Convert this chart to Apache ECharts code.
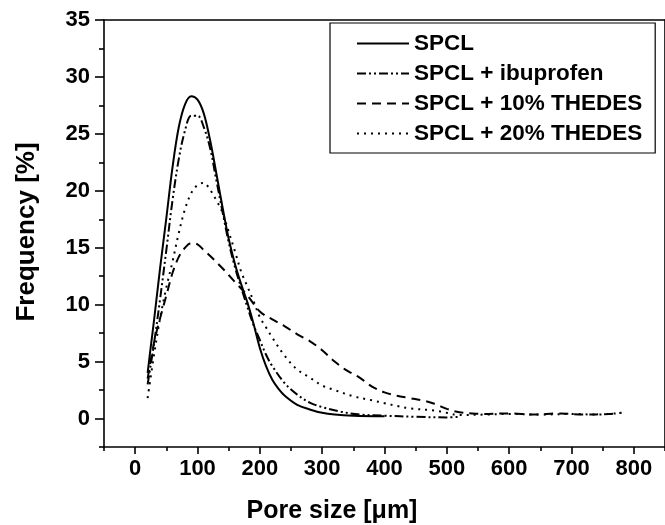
<!DOCTYPE html>
<html lang="en">
<head>
<meta charset="utf-8">
<title>Pore size distribution</title>
<script src="https://cdn.jsdelivr.net/npm/echarts@6/dist/echarts.min.js"></script>
<style>
  html, body { margin: 0; padding: 0; background: #fff; }
  #chart { width: 665px; height: 525px; }
</style>
</head>
<body>
<div id="chart"></div>
<script type="text/javascript">
// values
var names = ['SPCL', 'SPCL + ibuprofen', 'SPCL + 10% THEDES', 'SPCL + 20% THEDES'];

var spclX = [20, 25, 30, 40, 50, 60, 70, 80, 90, 100, 110, 120, 130, 140, 150, 160, 170, 180, 190, 200, 210, 220, 230, 240, 260, 280, 300, 320, 350, 400];
var spclY = [4.0, 6.3, 8.5, 13.2, 17.6, 22.1, 25.6, 27.6, 28.3, 28.0, 26.8, 24.5, 21.6, 18.6, 15.8, 13.6, 11.8, 10.2, 8.3, 6.2, 4.6, 3.4, 2.6, 2.0, 1.2, 0.8, 0.5, 0.35, 0.25, 0.2];

var ibuX = [20, 30, 40, 50, 60, 70, 80, 90, 100, 110, 120, 130, 140, 150, 160, 170, 180, 190, 200, 210, 220, 240, 260, 280, 300, 330, 360, 400, 450, 500, 520];
var ibuY = [3.0, 6.5, 10.5, 14.8, 19.2, 22.8, 25.3, 26.6, 26.6, 25.6, 23.8, 21.0, 18.2, 15.5, 13.3, 11.5, 9.8, 8.2, 6.9, 5.6, 4.6, 3.1, 2.1, 1.4, 1.0, 0.6, 0.35, 0.25, 0.15, 0.1, 0.15];

var th10X = [20, 30, 40, 50, 60, 70, 80, 90, 100, 110, 120, 140, 160, 180, 200, 220, 240, 260, 280, 300, 320, 340, 360, 380, 400, 420, 440, 460, 480, 500, 520, 540, 560, 600, 640, 680, 720, 760, 780];
var th10Y = [3.5, 6.6, 8.8, 10.8, 12.8, 14.2, 15.0, 15.4, 15.3, 14.8, 14.3, 13.2, 12.0, 10.8, 9.4, 8.7, 8.1, 7.4, 6.8, 6.0, 5.0, 4.2, 3.6, 2.8, 2.3, 2.0, 1.8, 1.6, 1.3, 0.85, 0.55, 0.45, 0.4, 0.45, 0.35, 0.45, 0.35, 0.4, 0.5];

var th20X = [20, 30, 40, 50, 60, 70, 80, 90, 100, 110, 120, 130, 140, 150, 160, 170, 180, 190, 200, 210, 220, 240, 260, 280, 300, 320, 350, 380, 400, 420, 440, 480, 500, 520, 560, 600, 650, 700, 740, 780];
var th20Y = [1.8, 5.5, 8.8, 11.5, 13.8, 16.3, 18.4, 19.8, 20.5, 20.7, 20.1, 19.2, 18.1, 16.4, 14.7, 12.9, 11.6, 10.3, 8.9, 8.0, 7.1, 5.5, 4.3, 3.6, 2.9, 2.5, 1.95, 1.6, 1.35, 1.1, 0.9, 0.7, 0.5, 0.3, 0.35, 0.4, 0.35, 0.4, 0.35, 0.5];

var xMajor = [0, 100, 200, 300, 400, 500, 600, 700, 800];
var xMinor = [-50, 50, 150, 250, 350, 450, 550, 650, 750, 850];
var yMajor = [0, 5, 10, 15, 20, 25, 30, 35];
var yMinor = [-2.5, 2.5, 7.5, 12.5, 17.5, 22.5, 27.5, 32.5];

function pairs(xs, ys) {
    var out = [];
    for (var i = 0; i < xs.length; i++) out.push([xs[i], ys[i]]);
    return out;
}

var myChart = echarts.init(document.getElementById('chart'));

var font = 'Liberation Sans, Arial, sans-serif';
var black = '#000';
var axisLine = { show: true, onZero: false, lineStyle: { color: black, width: 1.6 } };
var noLine = { show: false, onZero: false };
var tickFont = { margin: 11, fontSize: 22, fontWeight: 'bold', color: black, fontFamily: font };

function series(name, xs, ys, type) {
    return {
        name: name,
        type: 'line',
        data: pairs(xs, ys),
        xAxisIndex: 0,
        yAxisIndex: 0,
        smooth: 0.35,
        symbol: 'none',
        lineStyle: { color: black, width: 2, type: type },
        itemStyle: { color: black }
    };
}

var option = {
    backgroundColor: '#fff',
    animation: false,
    textStyle: { fontFamily: font },
    grid: { left: 104, top: 20, right: -4, bottom: 78 },
    legend: {
        orient: 'vertical',
        left: 330,
        top: 23,
        data: names,
        itemWidth: 52,
        itemHeight: 14,
        itemGap: 7,
        padding: [9, 13, 8, 26],
        borderColor: black,
        borderWidth: 1.2,
        backgroundColor: '#fff',
        itemStyle: { opacity: 0 },
        textStyle: { fontFamily: font, fontWeight: 'bold', fontSize: 22.5, color: black, lineHeight: 22 }
    },
    xAxis: [{
        type: 'value', min: -50, max: 850, position: 'bottom',
        axisLine: axisLine,
        splitLine: { show: false },
        axisTick: { show: true, inside: false, length: 7, customValues: xMajor, lineStyle: { width: 1.6, color: black } },
        axisLabel: Object.assign({ customValues: xMajor }, tickFont)
    }, {
        type: 'value', min: -50, max: 850, position: 'bottom',
        axisLine: noLine,
        splitLine: { show: false },
        axisTick: { show: true, length: 4, customValues: xMinor, lineStyle: { width: 1.6, color: black } },
        axisLabel: { show: false }
    }, {
        type: 'value', min: -50, max: 850, position: 'top',
        axisLine: axisLine,
        splitLine: { show: false },
        axisTick: { show: false },
        axisLabel: { show: false }
    }],
    yAxis: [{
        type: 'value', min: -2.5, max: 35, position: 'left',
        axisLine: axisLine,
        splitLine: { show: false },
        axisTick: { show: true, length: 9, customValues: yMajor, lineStyle: { width: 1.6, color: black } },
        axisLabel: Object.assign({ customValues: yMajor }, tickFont, { margin: 14 })
    }, {
        type: 'value', min: -2.5, max: 35, position: 'left',
        axisLine: noLine,
        splitLine: { show: false },
        axisTick: { show: true, length: 5, customValues: yMinor, lineStyle: { width: 1.6, color: black } },
        axisLabel: { show: false }
    }, {
        type: 'value', min: -2.5, max: 35, position: 'right',
        axisLine: axisLine,
        splitLine: { show: false },
        axisTick: { show: false },
        axisLabel: { show: false }
    }],
    graphic: [{
        type: 'text', x: 27, y: 232, rotation: Math.PI / 2,
        style: { text: 'Frequency [%]', fontSize: 26, fontWeight: 'bold', fontFamily: font, fill: black, align: 'center', verticalAlign: 'middle' }
    }, {
        type: 'text', x: 332, y: 511,
        style: { text: 'Pore size [\u03bcm]', fontSize: 25, fontWeight: 'bold', fontFamily: font, fill: black, align: 'center', verticalAlign: 'middle' }
    }],
    series: [
        series(names[0], spclX, spclY, 'solid'),
        series(names[1], ibuX, ibuY, [9, 3, 2, 3, 2, 3]),
        series(names[2], th10X, th10Y, [9, 6]),
        series(names[3], th20X, th20Y, [2, 5])
    ]
};

myChart.setOption(option);
</script>
</body>
</html>
